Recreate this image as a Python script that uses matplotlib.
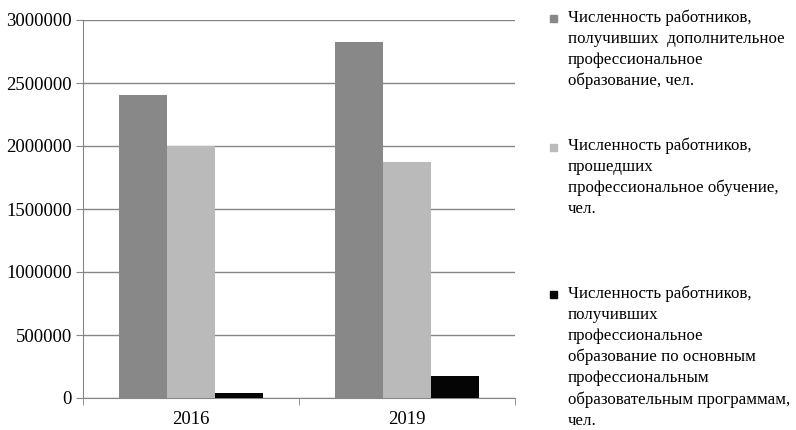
import numpy as np
import matplotlib.pyplot as plt
from matplotlib.patches import Rectangle

plt.rcParams['font.family'] = ['Liberation Serif', 'DejaVu Serif']

years = ["2016", "2019"]
dop_obr = [2405000, 2828000]
prof_obuch = [2000000, 1875000]
osn_prog = [40000, 177000]

labels = [
    "Численность работников,\nполучивших  дополнительное\nпрофессиональное\nобразование, чел.",
    "Численность работников,\nпрошедших\nпрофессиональное обучение,\nчел.",
    "Численность работников,\nполучивших\nпрофессиональное\nобразование по основным\nпрофессиональным\nобразовательным программам,\nчел.",
]
colors = ["#888888", "#bababa", "#050505"]
label_y = [0.979, 0.681, 0.337]

fig = plt.figure(figsize=(7.96, 4.30), dpi=100)
ax = fig.add_axes([83 / 796, 32 / 430, 432 / 796, 378 / 430])

x = np.arange(len(years))
w = 0.222
for i, (vals, c) in enumerate(zip([dop_obr, prof_obuch, osn_prog], colors)):
    ax.bar(x + (i - 1) * w, vals, width=w, color=c, zorder=3)

ax.set_xlim(-0.5, 1.5)
ax.set_ylim(0, 3000000)
ax.set_yticks(np.arange(0, 3000001, 500000))
ax.set_yticklabels([str(v) for v in range(0, 3000001, 500000)])
ax.yaxis.grid(True, color="#868686", linewidth=1, zorder=0)
ax.set_xticks(x)
ax.set_xticklabels(years)
ax.set_xticks([-0.5, 0.5, 1.5], minor=True)
ax.tick_params(axis="x", which="major", length=0, pad=9)
ax.tick_params(axis="x", which="minor", length=5, color="#868686")
ax.tick_params(axis="y", length=5, color="#868686", pad=3)
ax.tick_params(labelsize=13.5)
for s in ["top", "right"]:
    ax.spines[s].set_visible(False)
for s in ["left", "bottom"]:
    ax.spines[s].set_color("#868686")

for lab, c, y in zip(labels, colors, label_y):
    fig.patches.append(Rectangle((550 / 796, y - 0.031), 7 / 796, 7 / 430,
                                 color=c, transform=fig.transFigure))
    fig.text(568 / 796, y, lab, fontsize=12.2, va="top", ha="left", linespacing=1.42)

fig.savefig("out.png", dpi=100)
